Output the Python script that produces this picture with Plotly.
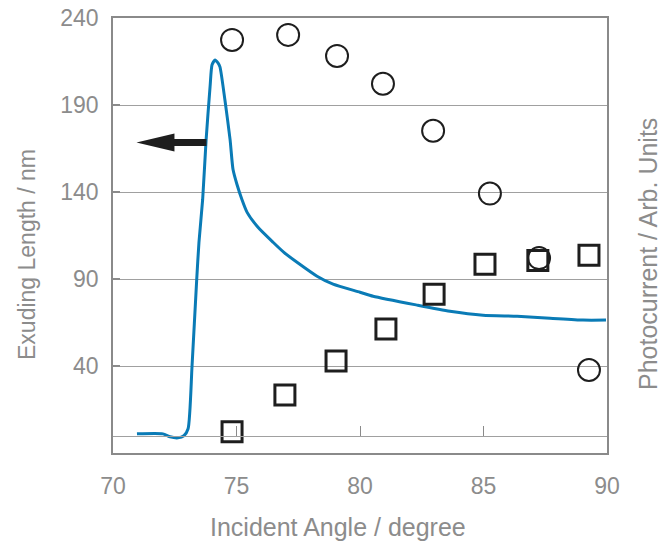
import plotly.graph_objects as go

# ---- data ----
curve_angle = [70.97, 72.02, 72.31, 72.63, 72.87, 73.04, 73.20, 73.39, 73.48, 73.63,
               73.77, 73.93, 74.01, 74.13, 74.25, 74.33, 74.53, 74.74, 74.86, 75.02,
               75.22, 75.43, 75.87, 76.48, 76.92, 77.45, 78.26, 78.91, 80.00, 80.53,
               82.31, 83.64, 84.98, 86.36, 87.69, 89.03, 89.96]
curve_length = [1.0, 1.0, -0.7, -1.3, -0.1, 3.9, 40.0, 89.9, 111.1, 135.7,
                170.1, 200.5, 213.1, 215.9, 214.2, 211.9, 193.0, 170.1, 152.9, 144.3,
                135.7, 128.3, 119.7, 111.1, 105.3, 99.6, 91.6, 87.0, 82.4, 80.1,
                75.0, 71.5, 69.2, 68.6, 67.5, 66.4, 66.4]

circle_angle = [74.82, 77.09, 79.07, 80.93, 82.96, 85.26, 87.25, 89.27]
circle_current = [227.4, 230.3, 218.2, 202.2, 175.2, 139.1, 102.0, 37.7]

square_angle = [74.82, 76.96, 79.03, 81.05, 83.00, 85.06, 87.20, 89.27]
square_current = [2.2, 23.4, 42.9, 61.2, 81.3, 98.5, 100.7, 103.6]

x_ticks = [70, 75, 80, 85, 90]
y_ticks = [40, 90, 140, 190, 240]
x_range = [70, 90]
y_range = [-10, 240]

arrow_tip = (70.95, 168.4)

GRAY = "#8c8c8c"
FRAME = "#8a8a8a"
GRID = "#a0a0a0"
BLUE = "#0a7bb6"
BLACK = "#1e1e1e"
FONT = "Liberation Sans, Arial, sans-serif"

# plot area in page pixels (page body has an 8px offset)
PL, PR, PT, PB = 113, 607, 18, 453
OFF = 8

fig = go.Figure()

fig.add_trace(go.Scatter(x=curve_angle, y=curve_length, mode="lines",
                         line=dict(color=BLUE, width=3, shape="spline", smoothing=0.6),
                         showlegend=False, hoverinfo="skip"))
fig.add_trace(go.Scatter(x=circle_angle, y=circle_current, mode="markers", yaxis="y2",
                         marker=dict(symbol="circle-open", size=22, color=BLACK,
                                     line=dict(width=2, color=BLACK)),
                         showlegend=False))
fig.add_trace(go.Scatter(x=square_angle, y=square_current, mode="markers", yaxis="y2",
                         marker=dict(symbol="square-open", size=20, color=BLACK,
                                     line=dict(width=3, color=BLACK)),
                         showlegend=False))
# helper trace so the inner tick axis is drawn
fig.add_trace(go.Scatter(x=[None], y=[None], xaxis="x2", showlegend=False))

fig.update_layout(
    width=671, height=541,
    margin=dict(l=PL - OFF, r=671 + OFF - PR, t=PT - OFF, b=541 + OFF - PB, autoexpand=False),
    plot_bgcolor="white", paper_bgcolor="white",
    font=dict(family=FONT, color=GRAY, size=23),
    xaxis=dict(range=x_range, tickvals=x_ticks, showgrid=False, zeroline=False,
               showline=True, linecolor=FRAME, linewidth=1.5, mirror=True,
               ticks="", ticklabelstandoff=12, automargin=False, ticklabeloverflow="allow",
               tickfont=dict(size=23, color=GRAY)),
    xaxis2=dict(range=x_range, overlaying="x", anchor="free", position=0.04,
                tickvals=x_ticks, showticklabels=False, showgrid=False, zeroline=False,
                showline=True, linecolor=GRID, linewidth=1.2, automargin=False,
                ticks="inside", ticklen=10, tickcolor=FRAME, tickwidth=1.2),
    yaxis=dict(range=y_range, tickvals=y_ticks, showgrid=True, gridcolor=GRID, gridwidth=1.2,
               zeroline=False, showline=True, linecolor=FRAME, linewidth=1.5, mirror=True,
               ticks="inside", ticklen=7, tickcolor=FRAME, tickwidth=1.5, automargin=False,
               ticklabeloverflow="allow",
               ticklabelstandoff=8, tickfont=dict(size=23, color=GRAY)),
    yaxis2=dict(range=y_range, overlaying="y", side="right", showticklabels=False,
                showgrid=False, zeroline=False, showline=False, ticks="", automargin=False),
)

fig.add_shape(type="path", xref="x", yref="y", xsizemode="pixel", ysizemode="pixel",
              xanchor=arrow_tip[0], yanchor=arrow_tip[1],
              path="M0,0 L38,-9 L38,-3.5 L70,-3.5 L70,3.5 L38,3.5 L38,9 Z",
              fillcolor=BLACK, line=dict(width=0))

W, H = PR - PL, PB - PT
fig.add_annotation(text="Incident Angle / degree", xref="paper", yref="paper",
                   x=(338 - PL) / W, y=-(527 - PB) / H, showarrow=False,
                   font=dict(size=25, color=GRAY), xanchor="center", yanchor="middle")
fig.add_annotation(text="Exuding Length / nm", xref="paper", yref="paper",
                   x=(27 - PL) / W, y=(PB - 255) / H, showarrow=False, textangle=-90,
                   font=dict(size=23, color=GRAY), xanchor="center", yanchor="middle")
fig.add_annotation(text="Photocurrent / Arb. Units", xref="paper", yref="paper",
                   x=(648 - PL) / W, y=(PB - 254) / H, showarrow=False, textangle=-90,
                   font=dict(size=25, color=GRAY), xanchor="center", yanchor="middle")

fig.write_html("out.html")
